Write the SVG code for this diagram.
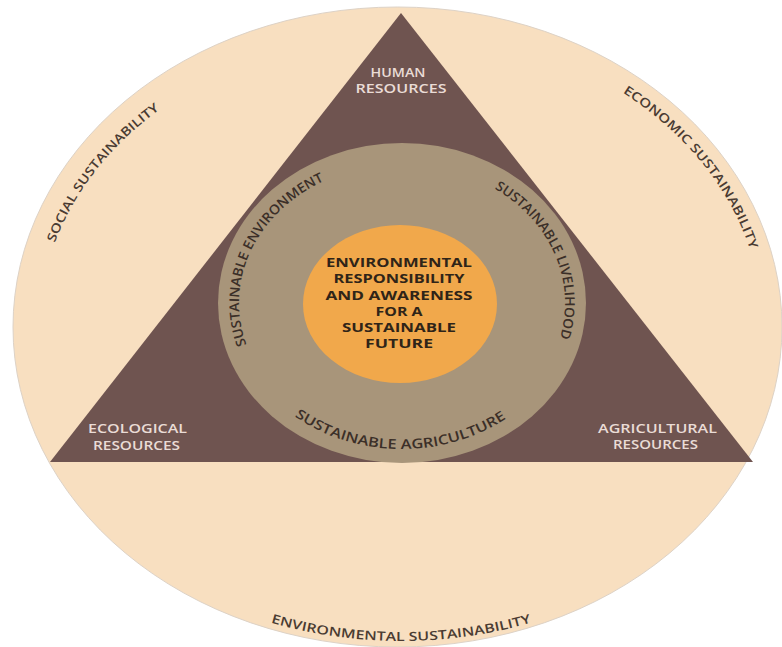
<svg xmlns="http://www.w3.org/2000/svg" width="782" height="647" viewBox="0 0 782 647">
  <defs>
    <!-- baselines for the curved labels -->
    <path id="arcSocial" d="M 47.5 265.2 A 358.5 292.5 0 0 1 179.2 96.4"/>
    <path id="arcEconomic" d="M 605 82 A 365.5 299.5 0 0 1 755.8 269.3"/>
    <path id="arcEnvironmental" d="M 251 616.4 A 470 470 0 0 0 551 616.4"/>
    <path id="arcSusEnv" d="M 252.3 358 A 163 139 0 0 1 337.5 175.3"/>
    <path id="arcSusLive" d="M 471.1 177.1 A 163 139 0 0 1 549.6 362"/>
    <path id="arcSusAgri" d="M 280.3 405 A 170 146 0 0 0 520.7 407.5"/>
    <style>
      .outer { fill: #f8dfc0; stroke: #ddd2c6; stroke-width: 1; }
      .tri { fill: #6f5450; }
      .ring { fill: #a8957a; }
      .core { fill: #f1a84b; }
      .pillar { font-family: "Open Sans", "Liberation Sans", sans-serif; font-size: 12.5px; font-weight: 600; fill: #4a3b32; }
      .res { font-family: "Open Sans", "Liberation Sans", sans-serif; font-size: 12.5px; font-weight: 600; fill: #eadcd6; text-anchor: middle; }
      .sus { font-family: "Open Sans", "Liberation Sans", sans-serif; font-size: 13.5px; font-weight: 600; fill: #3b2f28; }
      .goal { font-family: "Open Sans", "Liberation Sans", sans-serif; font-size: 12.5px; font-weight: bold; fill: #2f2418; text-anchor: middle; }
    </style>
  </defs>

  <!-- outer sustainability field -->
  <g id="sustainability-field">
    <ellipse class="outer" cx="397.5" cy="327" rx="384.5" ry="320"/>
  </g>

  <!-- resources triangle -->
  <g id="resources-triangle">
    <polygon class="tri" points="401,13 50,462 753,462"/>
  </g>

  <!-- sustainability ring -->
  <g id="sustainable-ring">
    <ellipse class="ring" cx="402" cy="303" rx="184" ry="160"/>
  </g>

  <!-- core goal -->
  <g id="core-goal">
    <ellipse class="core" cx="400" cy="304" rx="97" ry="79"/>
    <text class="goal" x="399" y="267" textLength="146" lengthAdjust="spacingAndGlyphs">ENVIRONMENTAL</text>
    <text class="goal" x="399" y="283" textLength="131" lengthAdjust="spacingAndGlyphs">RESPONSIBILITY</text>
    <text class="goal" x="399" y="300" textLength="147" lengthAdjust="spacingAndGlyphs">AND AWARENESS</text>
    <text class="goal" x="399" y="316" textLength="47" lengthAdjust="spacingAndGlyphs">FOR A</text>
    <text class="goal" x="399" y="332" textLength="114" lengthAdjust="spacingAndGlyphs">SUSTAINABLE</text>
    <text class="goal" x="399" y="348" textLength="68" lengthAdjust="spacingAndGlyphs">FUTURE</text>
  </g>

  <!-- resource labels at the triangle corners -->
  <g id="human-resources">
    <text class="res" x="398" y="77" textLength="55" lengthAdjust="spacingAndGlyphs">HUMAN</text>
    <text class="res" x="401" y="93" textLength="91" lengthAdjust="spacingAndGlyphs">RESOURCES</text>
  </g>
  <g id="ecological-resources">
    <text class="res" x="137.5" y="433" textLength="99" lengthAdjust="spacingAndGlyphs">ECOLOGICAL</text>
    <text class="res" x="136.5" y="450" textLength="87" lengthAdjust="spacingAndGlyphs">RESOURCES</text>
  </g>
  <g id="agricultural-resources">
    <text class="res" x="657.5" y="433" textLength="119" lengthAdjust="spacingAndGlyphs">AGRICULTURAL</text>
    <text class="res" x="655.5" y="449" textLength="85" lengthAdjust="spacingAndGlyphs">RESOURCES</text>
  </g>

  <!-- ring labels -->
  <g id="sustainable-environment">
    <text class="sus"><textPath href="#arcSusEnv" startOffset="50%" text-anchor="middle" textLength="200" lengthAdjust="spacingAndGlyphs">SUSTAINABLE ENVIRONMENT</textPath></text>
  </g>
  <g id="sustainable-livelihood">
    <text class="sus"><textPath href="#arcSusLive" startOffset="50%" text-anchor="middle" textLength="176" lengthAdjust="spacingAndGlyphs">SUSTAINABLE LIVELIHOOD</textPath></text>
  </g>
  <g id="sustainable-agriculture">
    <text class="sus"><textPath href="#arcSusAgri" startOffset="50%" text-anchor="middle" textLength="224" lengthAdjust="spacingAndGlyphs">SUSTAINABLE AGRICULTURE</textPath></text>
  </g>

  <!-- pillar labels around the field -->
  <g id="social-sustainability">
    <text class="pillar"><textPath href="#arcSocial" startOffset="50%" text-anchor="middle" textLength="172" lengthAdjust="spacingAndGlyphs">SOCIAL SUSTAINABILITY</textPath></text>
  </g>
  <g id="economic-sustainability">
    <text class="pillar"><textPath href="#arcEconomic" startOffset="50%" text-anchor="middle" textLength="206" lengthAdjust="spacingAndGlyphs">ECONOMIC SUSTAINABILITY</textPath></text>
  </g>
  <g id="environmental-sustainability">
    <text class="pillar"><textPath href="#arcEnvironmental" startOffset="50%" text-anchor="middle" textLength="264" lengthAdjust="spacingAndGlyphs">ENVIRONMENTAL SUSTAINABILITY</textPath></text>
  </g>
</svg>
